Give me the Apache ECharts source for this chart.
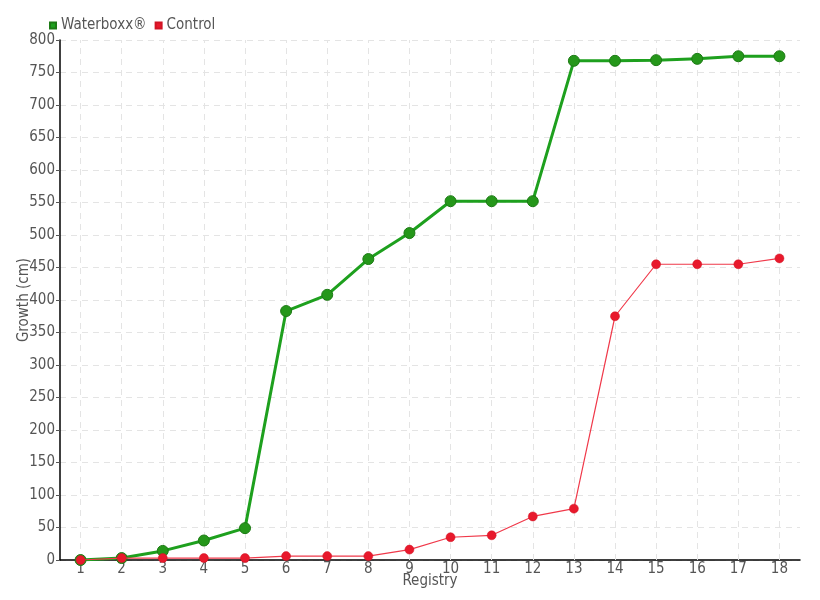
<!DOCTYPE html>
<html><head><meta charset="utf-8">
<script src="https://cdn.jsdelivr.net/npm/echarts@6/dist/echarts.min.js"></script>
<style>html,body{margin:0;padding:0;background:#fff}#c{width:820px;height:600px}</style>
</head><body><div id="c"></div>
<script>
const categories = ['1','2','3','4','5','6','7','8','9','10','11','12','13','14','15','16','17','18'];
const waterboxx = [0,3,14,30,49,383,408,463,503,552,552,552,768,768,769,771,775,775];
const control = [0,3,3,3,3,6,6,6,16,35,38,67,79,375,455,455,455,464];
const yTicks = [0,50,100,150,200,250,300,350,400,450,500,550,600,650,700,750,800];

const font = '"DejaVu Sans Condensed", "Liberation Sans Narrow", sans-serif';
const txt = {fontFamily: font, fontSize: 15, color: '#555'};
const chart = echarts.init(document.getElementById('c'));
chart.setOption({
  animation: false,
  textStyle: {fontFamily: font, color: '#555'},
  legend: {
    left: 44, top: 13, itemWidth: 6, itemHeight: 6, itemGap: 8,
    icon: 'rect',
    textStyle: txt,
    data: [{name: 'Waterboxx®', itemStyle: {color: '#1ea01e'}}, {name: 'Control', itemStyle: {color: '#e8192c'}}]
  },
  grid: {left: 60, right: 20, top: 40, bottom: 40, containLabel: false, outerBoundsMode: 'none'},
  xAxis: {
    type: 'category', data: categories, boundaryGap: true,
    name: 'Registry', nameLocation: 'middle', nameGap: 14, nameMoveOverlap: false,
    nameTextStyle: txt,
    axisLine: {lineStyle: {color: '#000', width: 1.5}},
    axisTick: {alignWithLabel: true, length: 4, lineStyle: {color: '#555'}},
    axisLabel: Object.assign({margin: 2, interval: 0}, txt),
    splitLine: {show: false}
  },
  yAxis: {
    type: 'value', min: yTicks[0], max: yTicks[yTicks.length - 1], interval: 50,
    name: 'Growth (cm)', nameLocation: 'middle', nameGap: 28, nameMoveOverlap: false,
    nameTextStyle: txt,
    axisLine: {show: true, lineStyle: {color: '#000', width: 1.5}},
    axisTick: {show: true, length: 4, lineStyle: {color: '#555'}},
    axisLabel: Object.assign({margin: 5}, txt),
    splitLine: {show: true, lineStyle: {color: '#e4e4e4', type: [6, 5]}}
  },
  series: [
    {
      name: 'Waterboxx®', type: 'line', data: waterboxx,
      symbol: 'circle', symbolSize: 11, z: 3,
      lineStyle: {color: '#1ea01e', width: 3},
      itemStyle: {color: '#25971a', borderColor: '#1c7a14', borderWidth: 1},
      markLine: {
        silent: true, symbol: 'none', label: {show: false}, z: 1,
        lineStyle: {color: '#e4e4e4', type: [6, 5], width: 1},
        emphasis: {disabled: true},
        data: categories.map(c => ({xAxis: c}))
      }
    },
    {
      name: 'Control', type: 'line', data: control,
      symbol: 'circle', symbolSize: 9, z: 4,
      lineStyle: {color: '#f0394a', width: 1.2},
      itemStyle: {color: '#e8192c', borderColor: '#d11424', borderWidth: 0.5}
    }
  ]
});
</script></body></html>
